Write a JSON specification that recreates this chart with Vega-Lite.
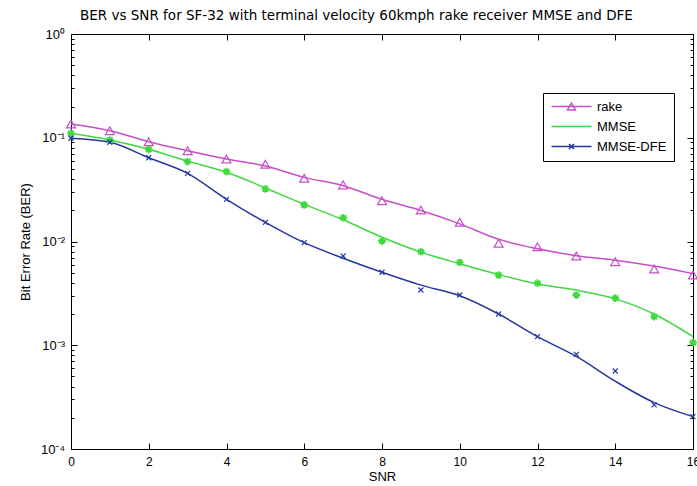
{
  "$schema": "https://vega.github.io/schema/vega-lite/v6.json",
  "width": 622,
  "height": 415,
  "autosize": {"type": "none"},
  "padding": {"left": 71, "top": 34, "right": 4, "bottom": 37},
  "background": "white",
  "title": {
    "text": "BER vs SNR for SF-32 with terminal velocity 60kmph rake receiver  MMSE and DFE",
    "anchor": "start",
    "frame": "group",
    "dx": 9,
    "offset": -1,
    "baseline": "middle",
    "font": "DejaVu Sans",
    "fontSize": 13.5,
    "fontWeight": "normal",
    "color": "black"
  },
  "config": {
    "view": {"stroke": "black", "strokeWidth": 1},
    "axis": {
      "grid": false,
      "domain": false,
      "tickColor": "black",
      "tickWidth": 1,
      "labelColor": "black",
      "titleColor": "black",
      "labelFont": "Liberation Sans",
      "titleFont": "Liberation Sans",
      "labelFontSize": 12,
      "titleFontSize": 13,
      "titleFontWeight": "normal",
      "labelFlush": false,
      "labelOverlap": false
    }
  },
  "data": {
    "values": [
      {"snr": 0, "series": "rake", "ber": 0.1357, "fit": 0.1357},
      {"snr": 1, "series": "rake", "ber": 0.1169, "fit": 0.1169},
      {"snr": 2, "series": "rake", "ber": 0.0916, "fit": 0.0916},
      {"snr": 3, "series": "rake", "ber": 0.075, "fit": 0.075},
      {"snr": 4, "series": "rake", "ber": 0.0624, "fit": 0.0624},
      {"snr": 5, "series": "rake", "ber": 0.0555, "fit": 0.0535},
      {"snr": 6, "series": "rake", "ber": 0.0407, "fit": 0.0415},
      {"snr": 7, "series": "rake", "ber": 0.0351, "fit": 0.0345},
      {"snr": 8, "series": "rake", "ber": 0.0247, "fit": 0.0255},
      {"snr": 9, "series": "rake", "ber": 0.0201, "fit": 0.0199},
      {"snr": 10, "series": "rake", "ber": 0.0153, "fit": 0.0148},
      {"snr": 11, "series": "rake", "ber": 0.00961, "fit": 0.0105},
      {"snr": 12, "series": "rake", "ber": 0.00891, "fit": 0.0085},
      {"snr": 13, "series": "rake", "ber": 0.00725, "fit": 0.0073},
      {"snr": 14, "series": "rake", "ber": 0.00639, "fit": 0.0066},
      {"snr": 15, "series": "rake", "ber": 0.00543, "fit": 0.0058},
      {"snr": 16, "series": "rake", "ber": 0.00475, "fit": 0.0049},
      {"snr": 0, "series": "MMSE", "ber": 0.1104, "fit": 0.1104},
      {"snr": 1, "series": "MMSE", "ber": 0.0951, "fit": 0.0951},
      {"snr": 2, "series": "MMSE", "ber": 0.0774, "fit": 0.0774},
      {"snr": 3, "series": "MMSE", "ber": 0.0588, "fit": 0.0595},
      {"snr": 4, "series": "MMSE", "ber": 0.0471, "fit": 0.0465},
      {"snr": 5, "series": "MMSE", "ber": 0.0321, "fit": 0.0328},
      {"snr": 6, "series": "MMSE", "ber": 0.0225, "fit": 0.0228},
      {"snr": 7, "series": "MMSE", "ber": 0.01694, "fit": 0.0162},
      {"snr": 8, "series": "MMSE", "ber": 0.01011, "fit": 0.011},
      {"snr": 9, "series": "MMSE", "ber": 0.00797, "fit": 0.0079},
      {"snr": 10, "series": "MMSE", "ber": 0.0063, "fit": 0.0061},
      {"snr": 11, "series": "MMSE", "ber": 0.00475, "fit": 0.0048},
      {"snr": 12, "series": "MMSE", "ber": 0.00396, "fit": 0.0039},
      {"snr": 13, "series": "MMSE", "ber": 0.00305, "fit": 0.0034},
      {"snr": 14, "series": "MMSE", "ber": 0.00284, "fit": 0.0028},
      {"snr": 15, "series": "MMSE", "ber": 0.00189, "fit": 0.002},
      {"snr": 16, "series": "MMSE", "ber": 0.00106, "fit": 0.00121},
      {"snr": 0, "series": "MMSE-DFE", "ber": 0.0988, "fit": 0.0988},
      {"snr": 1, "series": "MMSE-DFE", "ber": 0.0904, "fit": 0.0904},
      {"snr": 2, "series": "MMSE-DFE", "ber": 0.0642, "fit": 0.0642},
      {"snr": 3, "series": "MMSE-DFE", "ber": 0.0454, "fit": 0.0454},
      {"snr": 4, "series": "MMSE-DFE", "ber": 0.0255, "fit": 0.0255},
      {"snr": 5, "series": "MMSE-DFE", "ber": 0.0153, "fit": 0.0153},
      {"snr": 6, "series": "MMSE-DFE", "ber": 0.00974, "fit": 0.00974},
      {"snr": 7, "series": "MMSE-DFE", "ber": 0.00725, "fit": 0.0069},
      {"snr": 8, "series": "MMSE-DFE", "ber": 0.00505, "fit": 0.00505},
      {"snr": 9, "series": "MMSE-DFE", "ber": 0.00341, "fit": 0.0038},
      {"snr": 10, "series": "MMSE-DFE", "ber": 0.00305, "fit": 0.003},
      {"snr": 11, "series": "MMSE-DFE", "ber": 0.002, "fit": 0.002},
      {"snr": 12, "series": "MMSE-DFE", "ber": 0.00121, "fit": 0.00121},
      {"snr": 13, "series": "MMSE-DFE", "ber": 0.000818, "fit": 0.00078},
      {"snr": 14, "series": "MMSE-DFE", "ber": 0.000565, "fit": 0.00045},
      {"snr": 15, "series": "MMSE-DFE", "ber": 0.000266, "fit": 0.00028},
      {"snr": 16, "series": "MMSE-DFE", "ber": 0.000205, "fit": 0.000205}
    ]
  },
  "resolve": {"axis": {"x": "independent", "y": "independent"}},
  "layer": [
    {
      "mark": {"type": "line", "interpolate": "monotone", "strokeWidth": 1.5},
      "encoding": {
        "x": {
          "field": "snr", "type": "quantitative",
          "scale": {"domain": [0, 16], "nice": false, "zero": false},
          "axis": {
            "orient": "bottom",
            "values": [0, 2, 4, 6, 8, 10, 12, 14, 16],
            "tickSize": -6,
            "labelPadding": 13,
            "title": "SNR",
            "titleY": 27,
            "titleBaseline": "middle"
          }
        },
        "y": {
          "field": "fit", "type": "quantitative",
          "scale": {"type": "log", "domain": [0.0001, 1], "nice": false},
          "axis": {
            "orient": "left",
            "values": [0.0001, 0.001, 0.01, 0.1, 1],
            "labelExpr": "['10⁰','10⁻¹','10⁻²','10⁻³','10⁻⁴'][round(-log(datum.value)/LN10)]",
            "labelFontSize": 13,
            "tickSize": -6,
            "labelPadding": 12.5,
            "title": "Bit Error Rate (BER)",
            "titleX": -46,
            "titleY": 207.5,
            "titleBaseline": "middle",
            "titleAngle": -90
          }
        },
        "color": {
          "field": "series", "type": "nominal",
          "scale": {"domain": ["rake", "MMSE", "MMSE-DFE"], "range": ["#c74fc9", "#3fd83f", "#26379e"]},
          "legend": {
            "orient": "none",
            "legendX": 472,
            "legendY": 59,
            "title": null,
            "padding": 7,
            "strokeColor": "black",
            "fillColor": "white",
            "cornerRadius": 0,
            "symbolSize": 100,
            "symbolStrokeWidth": 1.5,
            "labelOffset": 34,
            "labelFont": "Liberation Sans",
            "labelFontSize": 13,
            "labelColor": "black",
            "rowPadding": 6,
            "encode": {
              "symbols": {
                "update": {
                  "shape": {"signal": "datum.value === 'rake' ? 'M-1,0L7,0M2.2,0.7L3.8,0.7L3,-0.7Z' : datum.value === 'MMSE' ? 'M-1,0L7,0' : 'M-1,0L7,0M2.5,-0.5L3.5,0.5M2.5,0.5L3.5,-0.5'"},
                  "fill": {"value": "transparent"}
                }
              }
            }
          }
        }
      }
    },
    {
      "transform": [{"filter": "datum.series === 'rake'"}],
      "mark": {"type": "point", "shape": "triangle-up", "filled": false, "size": 80, "strokeWidth": 1.2, "color": "#c74fc9", "opacity": 1},
      "encoding": {
        "x": {
          "field": "snr", "type": "quantitative",
          "scale": {"domain": [0, 16], "nice": false, "zero": false},
          "axis": {"orient": "top", "values": [0, 2, 4, 6, 8, 10, 12, 14, 16], "tickSize": -6, "labels": false, "title": null}
        },
        "y": {
          "field": "ber", "type": "quantitative",
          "scale": {"type": "log", "domain": [0.0001, 1], "nice": false},
          "axis": {"orient": "right", "values": [0.0001, 0.001, 0.01, 0.1, 1], "tickSize": -6, "labels": false, "title": null}
        }
      }
    },
    {
      "transform": [{"filter": "datum.series === 'MMSE'"}],
      "mark": {"type": "point", "shape": "M-1,0L1,0M0,-1L0,1M-0.7,-0.7L0.7,0.7M-0.7,0.7L0.7,-0.7", "filled": false, "size": 60, "strokeWidth": 1.8, "color": "#3fd83f", "opacity": 1},
      "encoding": {
        "x": {"field": "snr", "type": "quantitative", "scale": {"domain": [0, 16], "nice": false, "zero": false}, "axis": null},
        "y": {
          "field": "ber", "type": "quantitative",
          "scale": {"type": "log", "domain": [0.0001, 1], "nice": false},
          "axis": {
            "orient": "left",
            "values": [0.0002, 0.0003, 0.0004, 0.0005, 0.0006, 0.0007, 0.0008, 0.0009, 0.002, 0.003, 0.004, 0.005, 0.006, 0.007, 0.008, 0.009, 0.02, 0.03, 0.04, 0.05, 0.06, 0.07, 0.08, 0.09, 0.2, 0.3, 0.4, 0.5, 0.6, 0.7, 0.8, 0.9],
            "tickSize": -3, "labels": false, "title": null
          }
        }
      }
    },
    {
      "transform": [{"filter": "datum.series === 'MMSE-DFE'"}],
      "mark": {"type": "point", "shape": "M-1,-1L1,1M-1,1L1,-1", "filled": false, "size": 25, "strokeWidth": 1.2, "color": "#26379e", "opacity": 1},
      "encoding": {
        "x": {"field": "snr", "type": "quantitative", "scale": {"domain": [0, 16], "nice": false, "zero": false}, "axis": null},
        "y": {
          "field": "ber", "type": "quantitative",
          "scale": {"type": "log", "domain": [0.0001, 1], "nice": false},
          "axis": {
            "orient": "right",
            "values": [0.0002, 0.0003, 0.0004, 0.0005, 0.0006, 0.0007, 0.0008, 0.0009, 0.002, 0.003, 0.004, 0.005, 0.006, 0.007, 0.008, 0.009, 0.02, 0.03, 0.04, 0.05, 0.06, 0.07, 0.08, 0.09, 0.2, 0.3, 0.4, 0.5, 0.6, 0.7, 0.8, 0.9],
            "tickSize": -3, "labels": false, "title": null
          }
        }
      }
    }
  ]
}
